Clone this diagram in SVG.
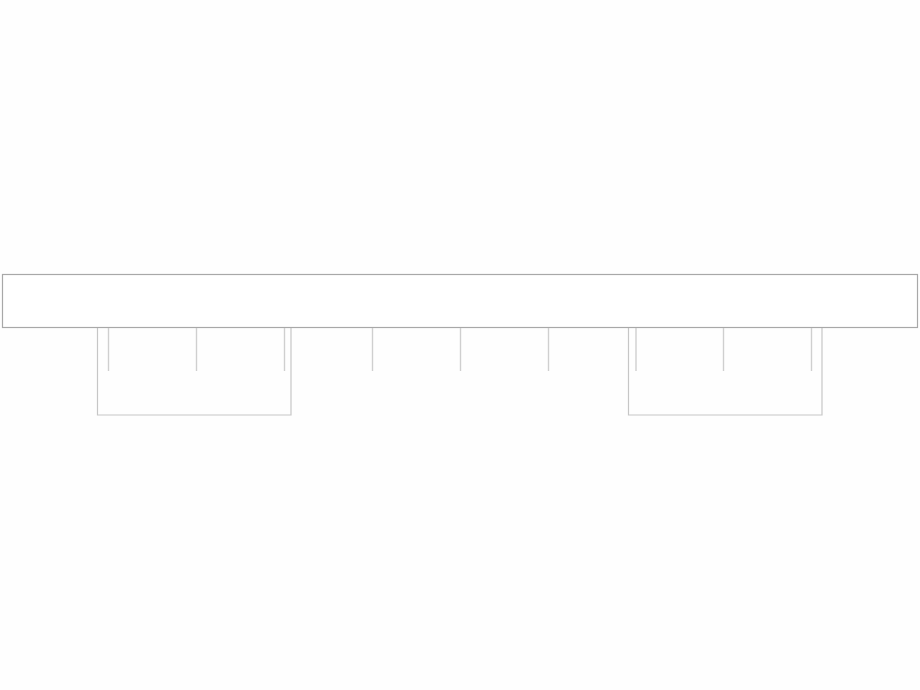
<svg xmlns="http://www.w3.org/2000/svg" width="920" height="690" viewBox="0 0 920 690">
  <style>
    .bar { fill: #ffffff; stroke: #a8a8a8; stroke-width: 1.2; }
    .bracket { fill: none; stroke: #c6c6c6; stroke-width: 1.2; }
    .drop { stroke: #cfcfcf; stroke-width: 1.4; fill: none; }
  </style>
  <rect x="0" y="0" width="920" height="690" fill="#fefefe"/>
  <g id="group-left">
    <path class="bracket" d="M97.5,320 V415 H291 V320"/>
  </g>
  <g id="group-right">
    <path class="bracket" d="M628.5,320 V415 H822 V320"/>
  </g>
  <g id="bar">
    <rect class="bar" x="2.5" y="274.5" width="915" height="53"/>
  </g>
  <g id="connectors">
    <line class="drop" x1="108.5" y1="328" x2="108.5" y2="371"/>
    <line class="drop" x1="196.5" y1="328" x2="196.5" y2="371"/>
    <line class="drop" x1="284.5" y1="328" x2="284.5" y2="371"/>
    <line class="drop" x1="372.5" y1="328" x2="372.5" y2="371"/>
    <line class="drop" x1="460.5" y1="328" x2="460.5" y2="371"/>
    <line class="drop" x1="548.5" y1="328" x2="548.5" y2="371"/>
    <line class="drop" x1="636" y1="328" x2="636" y2="371"/>
    <line class="drop" x1="723.5" y1="328" x2="723.5" y2="371"/>
    <line class="drop" x1="811.5" y1="328" x2="811.5" y2="371"/>
  </g>
</svg>
